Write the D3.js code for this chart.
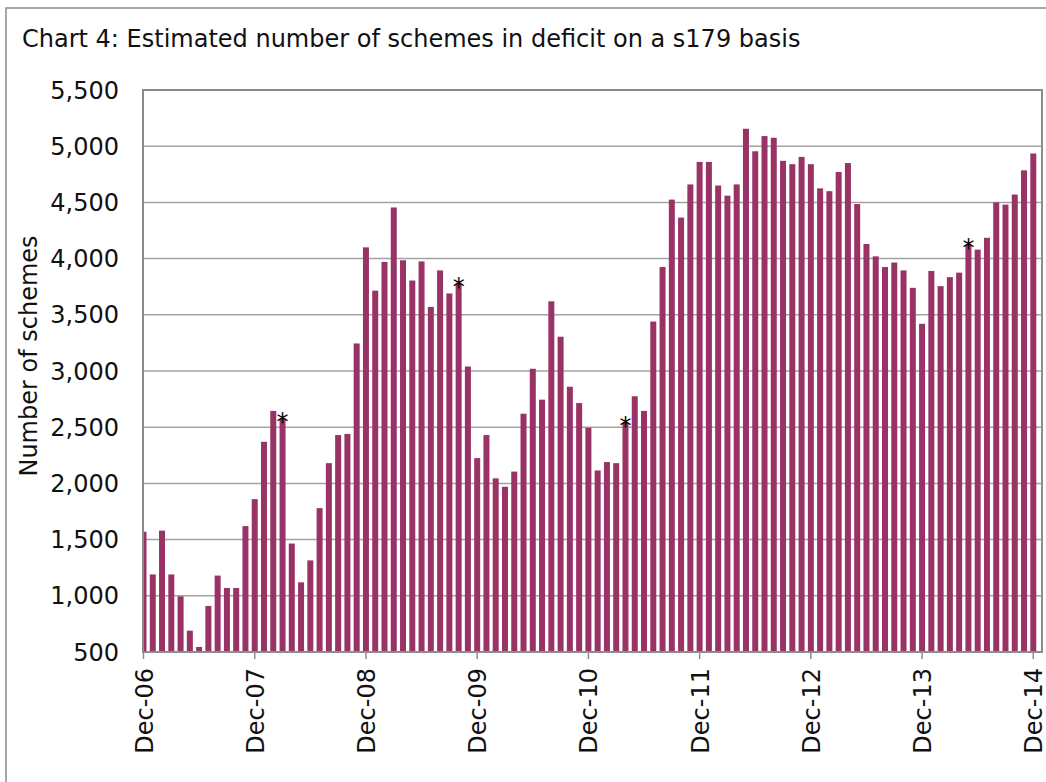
<!DOCTYPE html>
<html>
<head>
<meta charset="utf-8">
<script src="https://cdn.jsdelivr.net/npm/d3@7"></script>
<style>
  html, body { margin: 0; padding: 0; background: #fff; }
  svg { display: block; font-family: "DejaVu Sans", Verdana, sans-serif; }
</style>
</head>
<body>
<svg id="chart" width="1046" height="782"></svg>
<script>
// Monthly counts, Dec-06 .. Dec-14 (97 months)
const schemes = [
  1570, 1190, 1580, 1190, 995, 690, 545, 910, 1180, 1070, 1070, 1620,
  1860, 2370, 2645, 2580, 1465, 1120, 1315, 1780, 2180, 2430, 2440, 3245,
  4100, 3715, 3970, 4455, 3985, 3805, 3975, 3570, 3895, 3690, 3785, 3040,
  2225, 2430, 2045, 1970, 2105, 2620, 3020, 2745, 3620, 3305, 2860, 2715,
  2495, 2115, 2190, 2180, 2545, 2775, 2645, 3440, 3925, 4525, 4365, 4660,
  4860, 4860, 4650, 4560, 4660, 5155, 4955, 5090, 5075, 4870, 4840, 4905,
  4840, 4625, 4600, 4770, 4850, 4485, 4130, 4020, 3925, 3965, 3895, 3740,
  3420, 3890, 3755, 3835, 3875, 4130, 4080, 4185, 4500, 4480, 4570, 4785,
  4935
];
const tickLabels = ["Dec-06", "Dec-07", "Dec-08", "Dec-09", "Dec-10", "Dec-11", "Dec-12", "Dec-13", "Dec-14"];
const flagged = [15, 34, 52, 89]; // months marked with *
const yTicks = [500, 1000, 1500, 2000, 2500, 3000, 3500, 4000, 4500, 5000, 5500];

const svg = d3.select("#chart");
const plot = { left: 143, right: 1042, top: 90, bottom: 652 };

// outer chart frame
svg.append("rect")
  .attr("x", 6).attr("y", 8).attr("width", 1100).attr("height", 900)
  .attr("fill", "#fff").attr("stroke", "#8c8c8c").attr("stroke-width", 1.5);

svg.append("text")
  .attr("x", 22).attr("y", 47)
  .attr("font-size", 24).attr("fill", "#111")
  .text("Chart 4: Estimated number of schemes in deficit on a s179 basis");

const x = d3.scaleLinear().domain([0, schemes.length - 1]).range([143.5, 1033.3]);
const y = d3.scaleLinear().domain([500, 5500]).range([plot.bottom, plot.top]);
const barW = 6;

// gridlines
svg.append("g")
  .selectAll("line")
  .data(yTicks.slice(1, -1))
  .join("line")
  .attr("x1", plot.left).attr("x2", plot.right)
  .attr("y1", (d) => y(d)).attr("y2", (d) => y(d))
  .attr("stroke", "#a3a3a3").attr("stroke-width", 1.5);

svg.append("defs").append("clipPath").attr("id", "plotclip")
  .append("rect")
  .attr("x", plot.left).attr("y", plot.top)
  .attr("width", plot.right - plot.left).attr("height", plot.bottom - plot.top);

svg.append("g")
  .attr("clip-path", "url(#plotclip)")
  .selectAll("rect")
  .data(schemes)
  .join("rect")
  .attr("x", (d, i) => x(i) - barW / 2)
  .attr("width", barW)
  .attr("y", (d) => y(d))
  .attr("height", (d) => y(500) - y(d))
  .attr("fill", "#993366");

// asterisks
svg.append("g")
  .selectAll("text")
  .data(flagged)
  .join("text")
  .attr("x", (i) => x(i))
  .attr("y", (i) => y(schemes[i]) + 12)
  .attr("text-anchor", "middle")
  .attr("font-size", 24).attr("fill", "#000")
  .text("*");

// plot frame
svg.append("rect")
  .attr("x", plot.left).attr("y", plot.top)
  .attr("width", plot.right - plot.left).attr("height", plot.bottom - plot.top)
  .attr("fill", "none").attr("stroke", "#8c8c8c").attr("stroke-width", 2);

// y axis labels
svg.append("g")
  .selectAll("text")
  .data(yTicks)
  .join("text")
  .attr("x", 119).attr("y", (d) => y(d))
  .attr("dy", "0.36em")
  .attr("text-anchor", "end")
  .attr("font-size", 24).attr("fill", "#111")
  .text(d3.format(","));

svg.append("text")
  .attr("transform", "translate(37,356) rotate(-90)")
  .attr("text-anchor", "middle")
  .attr("font-size", 24).attr("fill", "#111")
  .text("Number of schemes");

// x axis: ticks and rotated labels every 12 months
const xt = svg.append("g")
  .selectAll("g")
  .data(tickLabels)
  .join("g")
  .attr("transform", (d, k) => `translate(${x(k * 12)},${plot.bottom})`);
xt.append("line")
  .attr("y1", 0).attr("y2", 7)
  .attr("stroke", "#8c8c8c").attr("stroke-width", 1.5);
xt.append("text")
  .attr("transform", "translate(9,16) rotate(-90)")
  .attr("text-anchor", "end")
  .attr("font-size", 24).attr("fill", "#111")
  .text((d) => d);
</script>
</body>
</html>
